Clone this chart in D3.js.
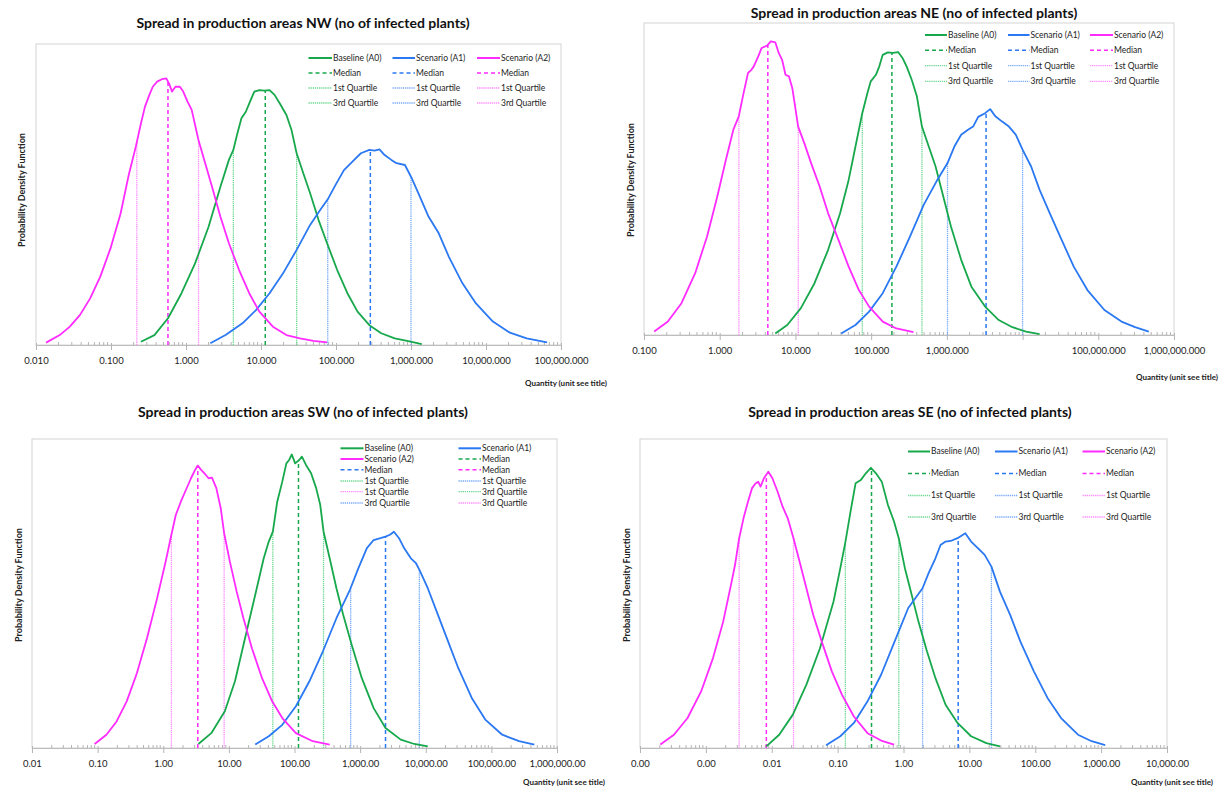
<!DOCTYPE html>
<html><head><meta charset="utf-8">
<script src="https://cdn.jsdelivr.net/npm/d3@7"></script>
<style>
body{margin:0;background:#fff;}
svg{display:block;font-family:Lato,"Open Sans",sans-serif;}
</style>
</head><body>
<svg id="chart" width="1220" height="789"></svg>
<script>
// ---------------- DATA ----------------
// Curves: pairs [log10(quantity), probability density (relative, 0..100 of plot height)]
const seriesNames = ["Baseline (A0)", "Scenario (A1)", "Scenario (A2)"];
const legendLabels = ["Baseline (A0)","Scenario (A1)","Scenario (A2)","Median","Median","Median","1st Quartile","1st Quartile","1st Quartile","3rd Quartile","3rd Quartile","3rd Quartile"];
const panelTitles = [
  "Spread in production areas NW (no of infected plants)",
  "Spread in production areas NE (no of infected plants)",
  "Spread in production areas SW (no of infected plants)",
  "Spread in production areas SE (no of infected plants)"
];
const xAxisTitle = "Quantity (unit see title)";
const yAxisTitle = "Probability Density Function";

// tick values and labels
const nwTicks = [0.01,0.1,1,10,100,1000,10000,100000];
const nwTickLabels = ["0.010","0.100","1.000","10.000","100.000","1,000.000","10,000.000","100,000.000"];
const neTicks = [0.1,1,10,100,1000,10000,100000,1000000];
const neTickLabels = ["0.100","1.000","10.000","100.000","1,000.000","","100,000.000","1,000,000.000"];
const swTicks = [0.01,0.1,1,10,100,1000,10000,100000,1000000];
const swTickLabels = ["0.01","0.10","1.00","10.00","100.00","1,000.00","10,000.00","100,000.00","1,000,000.00"];
const seTicks = [0.0001,0.001,0.01,0.1,1,10,100,1000,10000];
const seTickLabels = ["0.00","0.00","0.01","0.10","1.00","10.00","100.00","1,000.00","10,000.00"];

// NW
const nwA0 = [[-0.601,1.1],[-0.421,3.3],[-0.240,8.9],[-0.060,17.2],[0.121,27.1],[0.301,39.3],[0.459,52.6],[0.572,61.5],[0.631,64.8],[0.685,70.3],[0.739,75.3],[0.798,77.5],[0.852,80.8],[0.911,84.2],[0.978,84.7],[1.046,84.5],[1.114,84.7],[1.181,83.1],[1.249,80.3],[1.339,76.4],[1.407,71.4],[1.475,63.7],[1.565,57.0],[1.655,50.4],[1.768,41.5],[1.881,33.8],[2.016,24.9],[2.152,17.2],[2.287,11.1],[2.445,6.6],[2.603,3.9],[2.783,2.2],[2.964,1.3],[3.144,0.3]];
const nwA1 = [[0.324,0.6],[0.527,3.3],[0.753,7.2],[0.933,11.6],[1.114,17.2],[1.294,23.8],[1.475,31.6],[1.655,39.9],[1.791,44.9],[1.890,48.4],[1.994,53.2],[2.106,58.1],[2.219,60.9],[2.332,63.7],[2.445,64.8],[2.513,64.6],[2.580,65.0],[2.648,63.1],[2.738,61.5],[2.806,60.4],[2.919,59.8],[3.000,55.9],[3.099,50.4],[3.235,42.6],[3.370,37.1],[3.505,29.3],[3.686,20.5],[3.866,13.8],[4.092,7.8],[4.318,4.1],[4.543,2.2],[4.814,0.9]];
const nwA2 = [[-1.865,0.8],[-1.684,3.3],[-1.549,6.1],[-1.413,10.0],[-1.278,15.5],[-1.143,22.7],[-1.007,32.1],[-0.872,43.7],[-0.759,57.0],[-0.669,65.9],[-0.601,73.6],[-0.547,79.2],[-0.488,83.1],[-0.443,85.8],[-0.385,87.5],[-0.321,88.3],[-0.263,88.6],[-0.227,86.9],[-0.186,84.2],[-0.141,85.8],[-0.082,85.8],[-0.037,84.2],[0.022,80.8],[0.076,78.1],[0.166,68.1],[0.256,60.4],[0.347,52.6],[0.459,42.6],[0.572,33.8],[0.708,24.9],[0.843,17.2],[0.978,11.1],[1.159,6.1],[1.339,3.3],[1.520,2.2],[1.700,1.4],[1.881,0.9]];
// [1st quartile, median, 3rd quartile]
const nwStatsA0 = [4.28, 11.4, 29.9];
const nwStatsA1 = [77.6, 287, 1000];
const nwStatsA2 = [0.221, 0.575, 1.47];

// NE
const neA0 = [[0.734,0.5],[0.892,3.2],[1.072,8.6],[1.252,16.6],[1.432,27.3],[1.590,39.0],[1.703,49.7],[1.793,60.4],[1.883,71.1],[1.950,77.5],[1.995,81.3],[2.063,83.4],[2.108,86.1],[2.153,89.8],[2.221,90.6],[2.288,90.4],[2.356,90.7],[2.414,88.8],[2.468,86.1],[2.536,81.8],[2.604,76.5],[2.671,66.8],[2.761,60.4],[2.851,54.0],[2.941,45.5],[3.054,34.8],[3.189,24.1],[3.324,15.5],[3.505,9.1],[3.685,4.8],[3.865,2.5],[4.045,1.1],[4.225,0.3]];
const neA1 = [[1.604,0.5],[1.793,3.2],[1.973,7.5],[2.153,13.4],[2.333,21.9],[2.514,31.6],[2.694,41.7],[2.874,49.7],[3.009,55.1],[3.099,60.4],[3.189,64.2],[3.279,65.8],[3.347,66.8],[3.414,69.9],[3.505,71.1],[3.572,72.4],[3.640,70.1],[3.730,68.4],[3.820,66.8],[3.910,64.2],[4.000,59.4],[4.113,54.0],[4.225,46.5],[4.360,39.0],[4.495,31.6],[4.676,21.9],[4.856,14.4],[5.081,8.0],[5.306,4.3],[5.486,2.5],[5.667,1.1]];
const neA2 = [[-0.865,1.1],[-0.685,4.3],[-0.505,10.2],[-0.324,19.8],[-0.167,31.6],[-0.032,44.4],[0.081,56.1],[0.180,65.8],[0.252,70.1],[0.306,76.5],[0.374,84.0],[0.419,85.0],[0.450,86.1],[0.509,89.3],[0.554,92.0],[0.622,92.7],[0.676,94.1],[0.734,93.8],[0.779,90.4],[0.824,88.2],[0.869,83.4],[0.914,82.9],[0.959,79.1],[1.036,66.8],[1.117,61.5],[1.207,55.1],[1.320,47.6],[1.432,39.0],[1.568,30.5],[1.703,21.9],[1.838,14.4],[1.973,9.1],[2.153,4.3],[2.333,2.1],[2.559,0.9]];
const neStatsA0 = [76.4, 188, 469];
const neStatsA1 = [1020, 3296, 10000];
const neStatsA2 = [1.79, 4.32, 10.9];

// SW
const swA0 = [[0.536,1.3],[0.732,4.8],[0.938,11.9],[1.093,21.6],[1.247,35.6],[1.402,49.6],[1.531,61.4],[1.608,66.8],[1.670,70.0],[1.737,79.7],[1.814,86.2],[1.876,92.1],[1.918,93.2],[1.959,95.0],[2.010,92.1],[2.072,93.2],[2.113,94.3],[2.175,91.6],[2.253,88.9],[2.330,84.1],[2.392,78.7],[2.443,70.0],[2.536,61.4],[2.639,51.7],[2.742,43.1],[2.871,33.4],[3.026,22.6],[3.206,12.9],[3.387,6.5],[3.619,2.7],[3.825,1.3],[4.031,0.5]];
const swA1 = [[1.402,1.1],[1.608,3.8],[1.814,7.5],[2.021,13.5],[2.227,21.6],[2.433,31.3],[2.639,42.0],[2.845,51.2],[2.974,58.2],[3.103,64.7],[3.206,67.3],[3.309,67.9],[3.387,68.4],[3.454,69.0],[3.515,70.0],[3.593,67.9],[3.670,64.7],[3.773,61.4],[3.851,59.8],[3.902,57.7],[4.031,51.7],[4.186,43.1],[4.340,34.5],[4.495,25.9],[4.701,16.2],[4.907,9.2],[5.165,4.3],[5.423,2.2],[5.655,1.1]];
const swA2 = [[-1.046,1.3],[-0.866,4.3],[-0.711,8.6],[-0.557,15.1],[-0.402,24.2],[-0.247,35.6],[-0.093,48.5],[0.036,60.3],[0.124,69.0],[0.191,75.4],[0.268,79.7],[0.345,83.5],[0.423,87.3],[0.485,90.0],[0.526,91.4],[0.577,90.0],[0.639,88.6],[0.691,87.3],[0.742,87.5],[0.809,84.1],[0.876,77.6],[0.928,69.5],[1.015,60.3],[1.119,50.6],[1.222,42.0],[1.351,32.3],[1.505,22.6],[1.660,15.1],[1.814,9.7],[2.021,4.8],[2.278,2.2],[2.536,1.1]];
const swStatsA0 = [46.8, 115, 277];
const swStatsA1 = [718, 2438, 7980];
const swStatsA2 = [1.33, 3.36, 8.47];

// SE
const seA0 = [[-2.082,0.5],[-1.887,4.3],[-1.680,10.8],[-1.474,20.5],[-1.268,32.3],[-1.062,47.4],[-0.959,58.2],[-0.881,66.8],[-0.804,76.5],[-0.727,85.7],[-0.649,86.7],[-0.572,88.9],[-0.495,90.7],[-0.418,88.9],[-0.330,86.2],[-0.237,78.7],[-0.144,73.3],[-0.072,67.9],[0.021,58.2],[0.124,49.6],[0.227,40.9],[0.356,31.3],[0.485,22.6],[0.639,14.0],[0.820,8.1],[1.026,3.8],[1.258,1.6],[1.464,0.5]];
const seA1 = [[-1.175,0.9],[-0.959,3.8],[-0.753,8.1],[-0.546,15.1],[-0.340,23.7],[-0.134,34.5],[0.072,45.3],[0.289,51.7],[0.381,56.6],[0.485,61.4],[0.562,65.7],[0.639,66.8],[0.716,67.0],[0.820,67.9],[0.938,69.5],[1.026,66.8],[1.129,64.7],[1.232,62.5],[1.335,58.7],[1.464,50.6],[1.619,43.1],[1.773,34.5],[1.979,24.8],[2.186,16.2],[2.392,9.7],[2.649,4.3],[2.856,2.2],[3.062,0.9]];
const seA2 = [[-3.691,1.1],[-3.485,4.3],[-3.278,9.7],[-3.072,18.3],[-2.892,29.1],[-2.737,40.9],[-2.619,52.8],[-2.557,59.3],[-2.495,67.9],[-2.428,74.4],[-2.361,79.7],[-2.299,84.1],[-2.247,85.6],[-2.206,86.2],[-2.170,84.6],[-2.119,87.3],[-2.052,89.4],[-1.990,87.3],[-1.912,83.0],[-1.835,78.1],[-1.758,74.4],[-1.670,67.9],[-1.577,60.3],[-1.474,51.7],[-1.371,43.1],[-1.242,34.5],[-1.088,24.8],[-0.933,17.2],[-0.753,10.2],[-0.546,4.8],[-0.340,2.4],[-0.144,1.1]];
const seStatsA0 = [0.131, 0.327, 0.848];
const seStatsA1 = [1.95, 6.76, 21.6];
const seStatsA2 = [0.0032, 0.00828, 0.0214];

// ---------------- STYLE / LAYOUT ----------------
const colors = ["#17a84c", "#2a78f2", "#ff2bff"];
const quartColors = ["#6fd894", "#79abf8", "#ff8cff"];

const panels = [
  {title: panelTitles[0], titleX: 303, titleY: 28, domain:[0.01,100000], ticks: nwTicks, labels: nwTickLabels,
   left:36, right:561, top:44, bottom:345, yLabX:22, yLabY:190, qX:607, qY:386,
   curves:[nwA0,nwA1,nwA2], stats:[nwStatsA0,nwStatsA1,nwStatsA2],
   legend:{cols:3, rows:[58,73,88,103], lines:[[308.5,332],[392.5,415],[477,500]]}},
  {title: panelTitles[1], titleX: 914, titleY: 18, domain:[0.1,1000000], ticks: neTicks, labels: neTickLabels,
   left:644, right:1174, top:23, bottom:335, yLabX:631, yLabY:180, qX:1218, qY:380,
   curves:[neA0,neA1,neA2], stats:[neStatsA0,neStatsA1,neStatsA2],
   legend:{cols:3, rows:[35,50.3,65.7,81.3], lines:[[925,947],[1008,1029.5],[1090,1113]]}},
  {title: panelTitles[2], titleX: 303, titleY: 417, domain:[0.01,1000000], ticks: swTicks, labels: swTickLabels,
   left:32, right:557, top:439, bottom:748, yLabX:19, yLabY:585, qX:605, qY:785,
   curves:[swA0,swA1,swA2], stats:[swStatsA0,swStatsA1,swStatsA2],
   legend:{cols:2, rows:[448.3,459,469.7,481,491.7,503], lines:[[340.5,363.5],[458.5,481]]}},
  {title: panelTitles[3], titleX: 910, titleY: 417, domain:[0.0001,10000], ticks: seTicks, labels: seTickLabels,
   left:640, right:1167, top:439, bottom:748, yLabX:627, yLabY:585, qX:1213, qY:785,
   curves:[seA0,seA1,seA2], stats:[seStatsA0,seStatsA1,seStatsA2],
   legend:{cols:3, rows:[451.5,473.5,495.5,517], lines:[[908,930],[995,1017.5],[1082.5,1105]]}}
];

const svg = d3.select("#chart");

function pdfAt(curve, q) {
  const l = Math.log10(q);
  const i = d3.bisector(d => d[0]).left(curve, l);
  if (i <= 0) return curve[0][1];
  if (i >= curve.length) return curve[curve.length-1][1];
  const a = curve[i-1], b = curve[i];
  const t = (l - a[0]) / (b[0] - a[0]);
  return a[1] + t * (b[1] - a[1]);
}

function styleLine(sel, kind, s) {
  if (kind === 0) sel.attr("stroke", colors[s]).attr("stroke-width", 2);
  else if (kind === 1) sel.attr("stroke", colors[s]).attr("stroke-width", 1.5).attr("stroke-dasharray", "4,3");
  else sel.attr("stroke", quartColors[s]).attr("stroke-width", 1.3).attr("stroke-dasharray", "1.3,0.8");
}

panels.forEach(p => {
  const g = svg.append("g");
  const x = d3.scaleLog().domain(p.domain).range([p.left, p.right]);
  const y = d3.scaleLinear().domain([0, 100]).range([p.bottom, p.top]);

  // title
  g.append("text").attr("x", p.titleX).attr("y", p.titleY).attr("text-anchor", "middle")
    .attr("font-size", 14).attr("font-weight", 700).attr("fill", "#111").text(p.title);

  // frame
  g.append("rect").attr("x", p.left).attr("y", p.top).attr("width", p.right - p.left)
    .attr("height", p.bottom - p.top).attr("fill", "none").attr("stroke", "#d4d4d4").attr("stroke-width", 1);

  // minor ticks
  const minor = [];
  p.ticks.forEach(t => { for (let k = 2; k <= 9; k++) { const v = t * k; if (v < p.domain[1]) minor.push(v); } });
  g.append("g").selectAll("line").data(minor).join("line")
    .attr("x1", d => x(d)).attr("x2", d => x(d)).attr("y1", p.bottom - 3).attr("y2", p.bottom)
    .attr("stroke", "#b5b5b5").attr("stroke-width", 1);

  // axis
  const axis = d3.axisBottom(x).tickValues(p.ticks).tickFormat((d, i) => p.labels[i])
    .tickSize(5).tickSizeOuter(0).tickPadding(7);
  const ag = g.append("g").attr("transform", `translate(0,${p.bottom})`).call(axis);
  ag.select(".domain").attr("stroke", "#bdbdbd");
  ag.selectAll(".tick line").attr("stroke", "#b5b5b5").attr("y1", -2);
  ag.selectAll(".tick text").attr("font-size", 9.5).attr("fill", "#222").attr("font-family", "Lato");

  // axis titles
  g.append("text").attr("x", p.qX).attr("y", p.qY).attr("text-anchor", "end")
    .attr("font-size", 8).attr("font-weight", 700).attr("fill", "#222").text(xAxisTitle);
  g.append("text").attr("transform", `translate(${p.yLabX},${p.yLabY}) rotate(-90)`)
    .attr("text-anchor", "middle").attr("dy", "0.35em")
    .attr("font-size", 9).attr("font-weight", 700).attr("fill", "#222").text(yAxisTitle);

  // quartile & median lines
  p.stats.forEach((st, s) => {
    st.forEach((q, k) => {
      const ln = g.append("line").attr("x1", x(q)).attr("x2", x(q))
        .attr("y1", p.bottom).attr("y2", y(pdfAt(p.curves[s], q)));
      styleLine(ln, k === 1 ? 1 : 2, s);
    });
  });

  // curves
  const line = d3.line().x(d => x(Math.pow(10, d[0]))).y(d => y(d[1]));
  p.curves.forEach((c, s) => {
    g.append("path").datum(c).attr("d", line).attr("fill", "none")
      .attr("stroke", colors[s]).attr("stroke-width", 1.8).attr("stroke-linejoin", "round");
  });

  // legend
  const L = p.legend;
  legendLabels.forEach((lab, i) => {
    const r = Math.floor(i / L.cols), c = i % L.cols;
    const s = i % 3, kind = Math.floor(i / 3) === 0 ? 0 : (Math.floor(i / 3) === 1 ? 1 : 2);
    const yy = L.rows[r];
    const ln = g.append("line").attr("x1", L.lines[c][0]).attr("x2", L.lines[c][1]).attr("y1", yy).attr("y2", yy);
    styleLine(ln, kind, s);
    g.append("text").attr("x", L.lines[c][1] + 1).attr("y", yy).attr("dy", "0.35em")
      .attr("font-size", 8.5).attr("fill", "#222").text(lab);
  });
});
</script>
</body></html>
